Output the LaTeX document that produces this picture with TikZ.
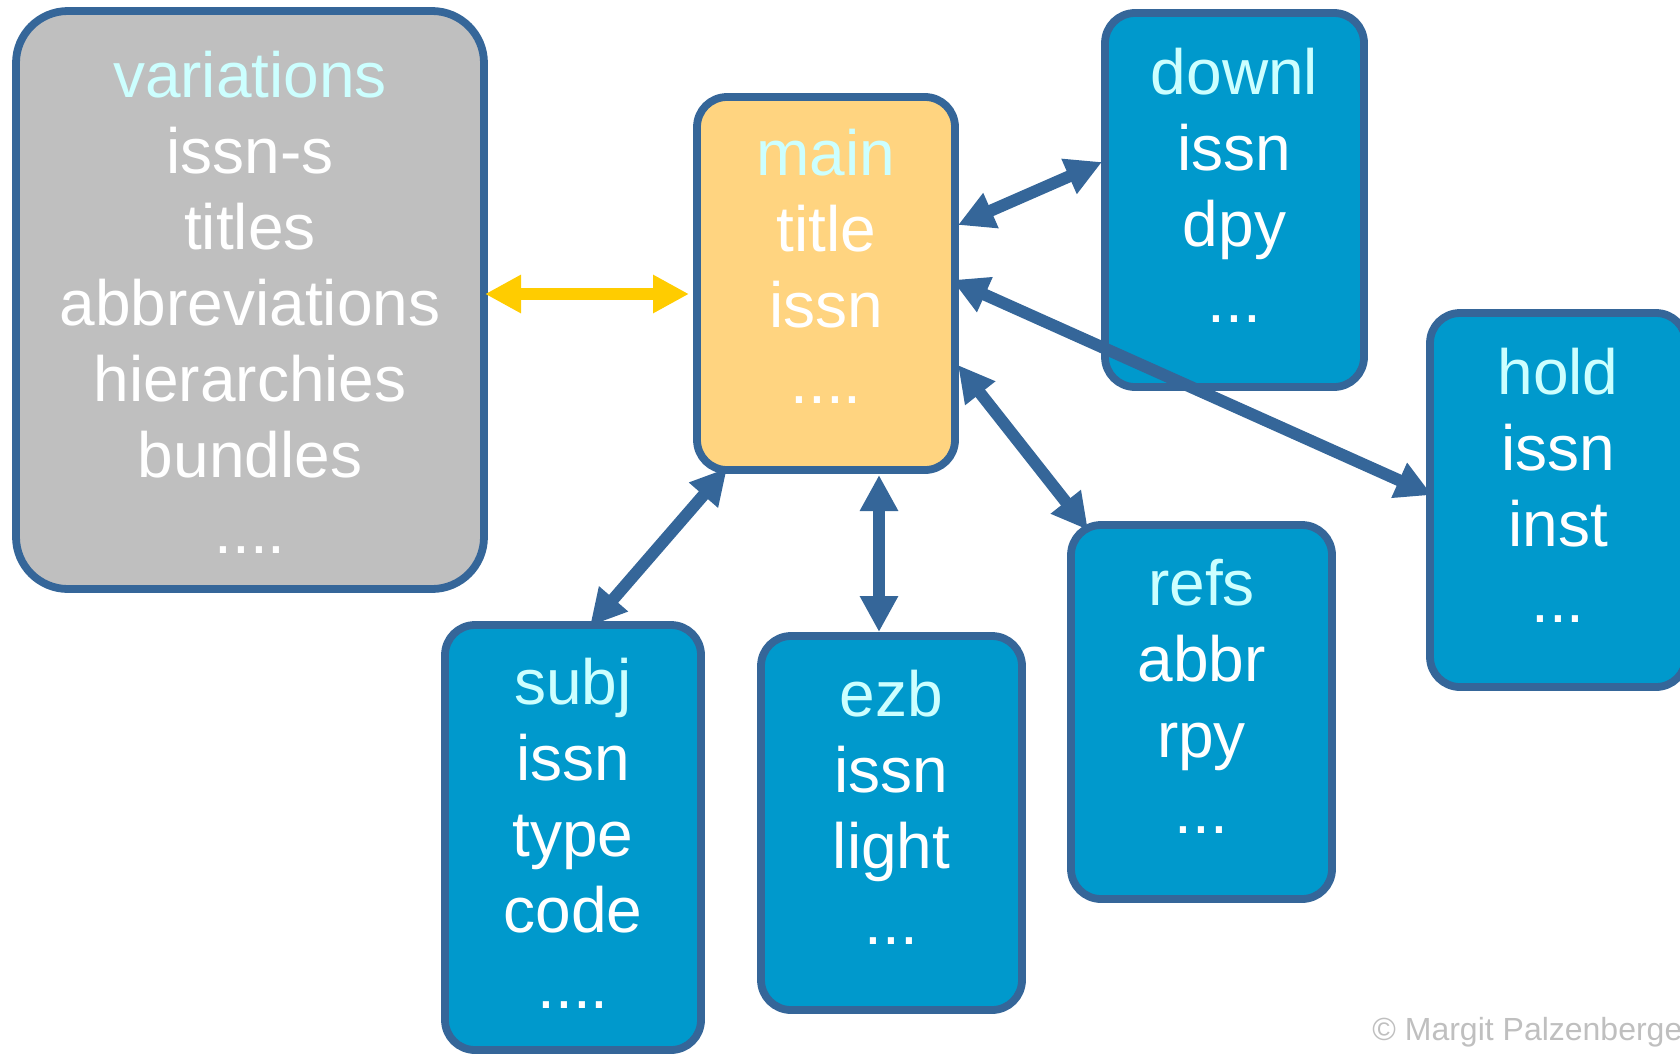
\documentclass[tikz,border=0pt]{standalone}
\usepackage{fontspec}
\setmainfont{Liberation Sans}
\usetikzlibrary{arrows.meta,calc}
\definecolor{bordc}{HTML}{356699}
\definecolor{boxblue}{HTML}{0099CC}
\definecolor{boxgray}{HTML}{BFBFBF}
\definecolor{boxmain}{HTML}{FFD480}
\definecolor{titlec}{HTML}{CCFFFF}
\definecolor{arrowyel}{HTML}{FFCC00}
\definecolor{copyc}{HTML}{BFBFBF}
\begin{document}
\begin{tikzpicture}[x=0.5pt,y=-0.5pt,
  box/.style={draw=bordc, line width=3.9pt, rounded corners=15pt, rectangle, outer sep=0pt, inner sep=0pt},
  bluebox/.style={box, fill=boxblue},
  txt/.style={text=white, align=center, font=\fontsize{32}{38}\selectfont, inner sep=0pt, anchor=base},
  link/.style={draw=bordc, line width=6pt, >={Triangle[length=18pt,width=18pt]}, <->},
  ylink/.style={link, draw=arrowyel}
]
\useasboundingbox (0,0) rectangle (1680,1055);
% boxes
\node[box, fill=boxgray, rounded corners=26pt, minimum width=234pt, minimum height=289pt] (var) at (250,300) {};
\node[box, fill=boxmain, minimum width=129pt, minimum height=186.5pt] (main) at (826,283.5) {};
\node[bluebox, minimum width=129.5pt, minimum height=187pt] (downl) at (1234.5,200) {};
\node[bluebox, minimum width=128pt, minimum height=187pt] (hold) at (1558,500) {};
\node[bluebox, minimum width=130.5pt, minimum height=187pt] (refs) at (1201.5,712) {};
\node[bluebox, minimum width=128pt, minimum height=212.5pt] (subj) at (573,837.5) {};
\node[bluebox, minimum width=130.5pt, minimum height=187pt] (ezb) at (891.5,823) {};
% texts (anchor = baseline of the last line)
\node[txt] (tvar) at (250,553) {\textcolor{titlec}{variations}\\issn-s\\titles\\abbreviations\\hierarchies\\bundles\\....};
\node[txt] (tmain) at (826,403) {\textcolor{titlec}{main}\\title\\issn\\....};
\node[txt] (tdownl) at (1234.5,322) {\textcolor{titlec}{downl}\\issn\\dpy\\...};
\node[txt] (thold) at (1558,622) {\textcolor{titlec}{hold}\\issn\\inst\\...};
\node[txt] (trefs) at (1201.5,833) {\textcolor{titlec}{refs}\\abbr\\rpy\\...};
\node[txt] (tsubj) at (573,1008) {\textcolor{titlec}{subj}\\issn\\type\\code\\....};
\node[txt] (tezb) at (891.5,944) {\textcolor{titlec}{ezb}\\issn\\light\\...};
\node[anchor=base west, text=copyc, font=\fontsize{16}{19}\selectfont, inner sep=0pt] (copy) at (1372,1040) {© Margit Palzenberge};
% connectors
\draw[ylink] ($(var.east)+(1,-6)$) -- ($(main.west)+(-8,10.5)$);
\draw[link] ($(main.south west)+(30,-2)$) -- ($(subj.north)+(17,1)$);
\draw[link] ($(main.south)+(53,5)$) -- ($(ezb.north)+(-12.5,-4)$);
\draw[link] ($(main.north east)+(3,128)$) -- ($(downl.west)+(-3,-38)$);
\draw[link] ($(main.east)+(-3,-3.5)$) -- ($(hold.west)+(2,-5)$);
\draw[link] ($(main.east)+(3,81.5)$) -- ($(refs.north west)+(17,5)$);
\end{tikzpicture}
\end{document}
